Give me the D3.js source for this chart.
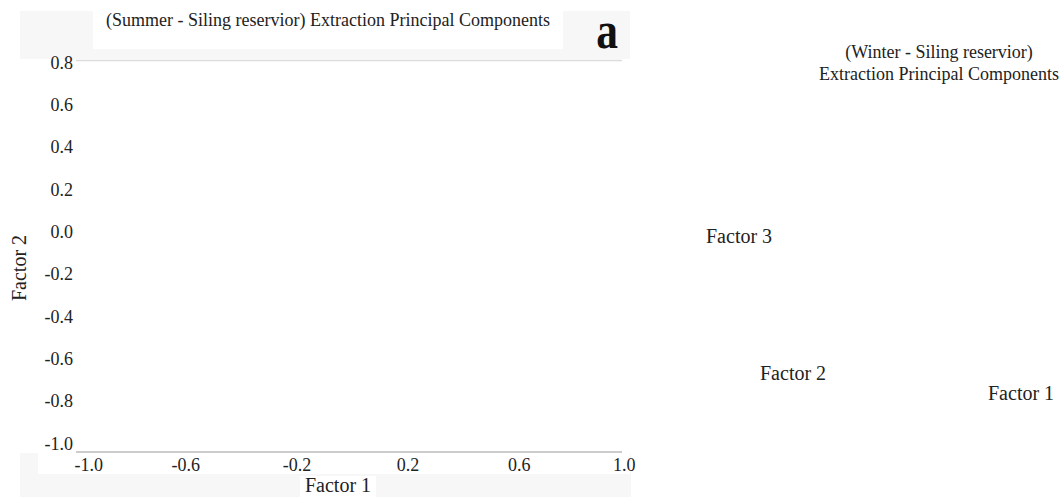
<!DOCTYPE html>
<html>
<head>
<meta charset="utf-8">
<script src="https://cdn.jsdelivr.net/npm/d3@7"></script>
<style>
  html, body { margin: 0; padding: 0; background: #fff; }
  svg { display: block; }
  text { font-family: "Liberation Serif", "Times New Roman", serif; fill: #222; }
</style>
</head>
<body>
<svg id="chart" width="1063" height="497"></svg>
<script>
// ---- data ----
const summerTitle = "(Summer - Siling reservior) Extraction Principal Components";
const panelLetter = "a";
const xTicks = [-1.0, -0.6, -0.2, 0.2, 0.6, 1.0];
const yTicks = [0.8, 0.6, 0.4, 0.2, 0.0, -0.2, -0.4, -0.6, -0.8, -1.0];
const xLabel = "Factor 1";
const yLabel = "Factor 2";
const points = []; // no plotted loadings visible in the reference
const winterTitle = ["(Winter - Siling reservior)", "Extraction Principal Components"];
const winterFactors = ["Factor 3", "Factor 2", "Factor 1"];

// ---- layout ----
const svg = d3.select("#chart");
const x = d3.scaleLinear().domain([-1, 1]).range([74, 630]);
const y = d3.scaleLinear().domain([-1, 0.8]).range([443.5, 62.5]);
const fmt = d => d.toFixed(1);

// background panels
svg.append("rect").attr("x", 20).attr("y", 11).attr("width", 610).attr("height", 48).attr("fill", "#f7f7f7");
svg.append("rect").attr("x", 93).attr("y", 0).attr("width", 470).attr("height", 49).attr("fill", "#fff");
svg.append("rect").attr("x", 20).attr("y", 453).attr("width", 611).attr("height", 44).attr("fill", "#f7f7f7");
svg.append("rect").attr("x", 38).attr("y", 453).attr("width", 592).attr("height", 21).attr("fill", "#fff");
svg.append("rect").attr("x", 300).attr("y", 476).attr("width", 76).attr("height", 21).attr("fill", "#fff");

// title and panel letter
svg.append("text").attr("x", 328).attr("y", 26).attr("text-anchor", "middle")
  .attr("font-size", 18).text(summerTitle);
svg.append("text").attr("transform", "translate(607,48) scale(0.82,1)")
  .attr("text-anchor", "middle").attr("font-size", 53).attr("font-weight", "bold")
  .style("fill", "#111").text(panelLetter);

// frame lines
svg.append("line").attr("x1", 76).attr("x2", 622).attr("y1", 60.5).attr("y2", 60.5)
  .attr("stroke", "#dcdcdc").attr("stroke-width", 1.5);
svg.append("line").attr("x1", 76).attr("x2", 622).attr("y1", 452).attr("y2", 452)
  .attr("stroke", "#999").attr("stroke-width", 1.2);

// x axis
const xAxis = svg.append("g").attr("transform", "translate(0,452)")
  .call(d3.axisBottom(x).tickValues(xTicks).tickFormat(fmt).tickSize(0).tickPadding(6));
xAxis.select(".domain").remove();
xAxis.selectAll("text").attr("font-size", 18).attr("font-family", "Liberation Serif").style("fill", "#222")
  .attr("text-anchor", (d, i) => i === 0 ? "start" : (i === xTicks.length - 1 ? "end" : "middle"))
  .attr("dx", (d, i) => i === xTicks.length - 1 ? 5 : 0);

// y axis
const yAxis = svg.append("g").attr("transform", "translate(73,0)")
  .call(d3.axisLeft(y).tickValues(yTicks).tickFormat(fmt).tickSize(0).tickPadding(0));
yAxis.select(".domain").remove();
yAxis.selectAll("text").attr("font-size", 18).attr("font-family", "Liberation Serif").style("fill", "#222");

// axis titles
svg.append("text").attr("x", 338).attr("y", 492).attr("text-anchor", "middle")
  .attr("font-size", 20).text(xLabel);
svg.append("text").attr("transform", "translate(26,268) rotate(-90)")
  .attr("text-anchor", "middle").attr("font-size", 20).text(yLabel);

// points (none)
svg.append("g").selectAll("circle").data(points).join("circle")
  .attr("cx", d => x(d[0])).attr("cy", d => y(d[1])).attr("r", 3);

// winter panel (text only)
svg.append("g").selectAll("text").data(winterTitle).join("text")
  .attr("x", 939).attr("y", (d, i) => 58 + i * 22).attr("text-anchor", "middle")
  .attr("font-size", 18).text(d => d);
const factorPos = [[706, 243], [760, 380], [988, 400]];
svg.append("g").selectAll("text").data(winterFactors).join("text")
  .attr("x", (d, i) => factorPos[i][0]).attr("y", (d, i) => factorPos[i][1])
  .attr("font-size", 20).text(d => d);
</script>
</body>
</html>
